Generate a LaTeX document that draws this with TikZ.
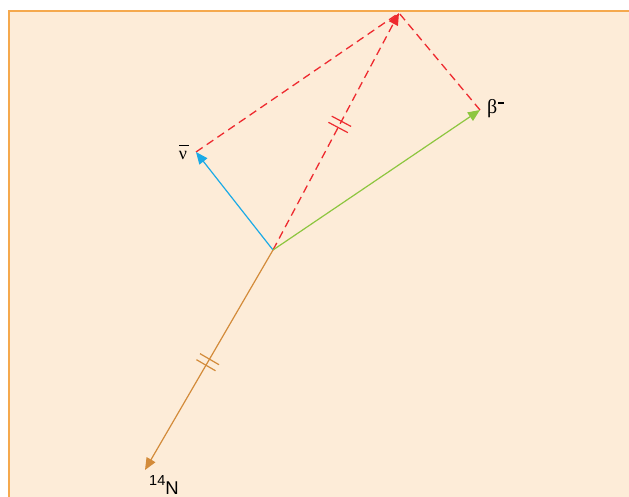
\documentclass[tikz,border=0pt]{standalone}
\usepackage{fontspec}
\setmainfont{Liberation Sans}
\newfontfamily\grkfont{Liberation Serif}
\usetikzlibrary{arrows.meta,decorations.markings,calc}
\definecolor{bgfill}{HTML}{FDECD8}
\definecolor{bgedge}{HTML}{F5A94E}
\definecolor{vred}{HTML}{EE2A2F}
\definecolor{vblue}{HTML}{1AAAE6}
\definecolor{vgreen}{HTML}{8DC63F}
\definecolor{vorange}{HTML}{D38B3A}
\tikzset{
  vec/.style={line width=1.2pt,-{Triangle[length=12pt,width=10pt]}},
  dashvec/.style={line width=1.3pt,vred,dash pattern=on 8pt off 5pt},
  lbl/.style={inner sep=0pt,font=\fontsize{17}{18}\selectfont},
  twoticks/.style={postaction={decorate},decoration={markings,
    mark=at position #1 with {\draw[line width=1.2pt,solid,arrows=-] (-3.5pt,-11pt)--(-3.5pt,11pt) (3.5pt,-11pt)--(3.5pt,11pt);}}}
}
\begin{document}
\begin{tikzpicture}[x=1pt,y=-1pt]
\useasboundingbox (0,0) rectangle (629,497);
\fill[bgfill] (9,11) rectangle (632,500);
\draw[bgedge,line width=1.3pt] (9,500) -- (9,11) -- (632,11);
\coordinate (O) at (273,250);
\coordinate (V) at (196,152);
\coordinate (B) at (480,110);
\coordinate (P) at (399,13);
\coordinate (N) at (145,470);
\draw[dashvec] (V) -- (P);
\draw[dashvec] (B) -- (P);
\draw[dashvec,twoticks=0.53,-{Triangle[length=12pt,width=10pt]}] (O) -- (P);
\draw[vec,vblue] (O) -- (V);
\draw[vec,vgreen] (O) -- (B);
\draw[vec,vorange,twoticks=0.51] (O) -- (N);
\node[lbl,anchor=base] (vl) at (183,160) {\grkfont\fontsize{18}{18}\selectfont\makebox[0pt][l]{\hspace{0.5pt}\raisebox{14pt}{\rule{9.5pt}{1.3pt}}}ν};
\node[lbl,anchor=base west] (bl) at (487,114) {\grkfont\fontsize{20}{20}\selectfont β\hspace{1pt}\raisebox{10pt}{\rule{5.5pt}{1.6pt}}};
\node[lbl,anchor=base west] (nl) at (149,494) {\fontsize{18.5}{19}\selectfont\raisebox{9pt}{\fontsize{14.5}{15}\selectfont 14}N};
\end{tikzpicture}
\end{document}
